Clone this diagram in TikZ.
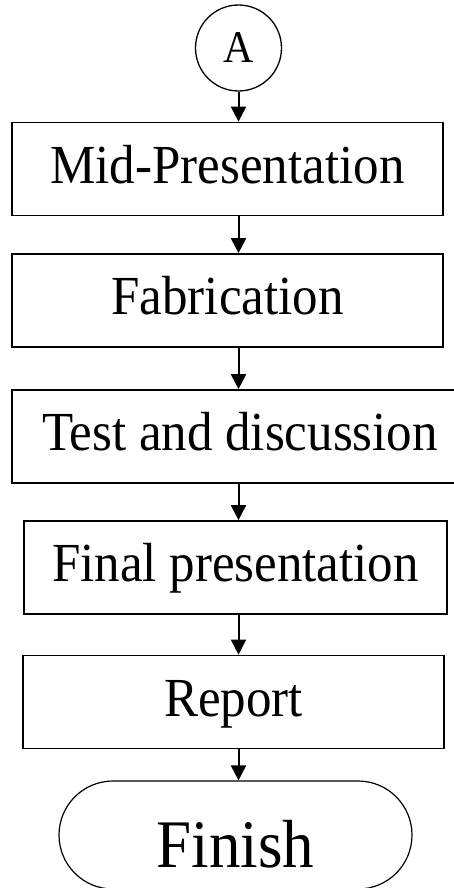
\documentclass[tikz,border=0pt]{standalone}
\usepackage{fontspec}
\setmainfont{Liberation Serif}
\usetikzlibrary{arrows.meta}

\newcommand{\tall}[1]{\scalebox{1}[1.08]{#1}}

\tikzset{
    stage/.style={draw, rectangle, line width=1.7pt, inner sep=0pt, minimum height=93pt,
        font=\fontsize{51}{51}\selectfont, text height=38pt, text depth=10pt},
    flow/.style={line width=2pt, -{Triangle[length=15pt,width=15pt]}},
}

\begin{document}
\begin{tikzpicture}[x=1pt,y=-1pt]
        \useasboundingbox (0,0) rectangle (453,888);
        \node[draw, circle, line width=1.3pt, minimum size=86pt, inner sep=0pt,
            font=\fontsize{42}{42}\selectfont] (conn) at (238.5,48) {\tall{A}};
        \node[stage, minimum width=431pt] (midpres) at (227.5,169) {\tall{Mid-Presentation}};
        \node[stage, minimum width=431pt] (fab) at (227.5,300.5) {\tall{Fabrication}};
        \node[stage, minimum width=456pt] (test) at (240,436.5) {\tall{Test and discussion}};
        \node[stage, minimum width=423pt] (finalpres) at (235.5,567.5) {\tall{Final presentation}};
        \node[stage, minimum width=421pt] (report) at (233.5,702) {\tall{Report}};
        \node[draw, rectangle, rounded corners=54pt, line width=1.2pt, minimum width=353pt,
            minimum height=108pt, font=\fontsize{63}{63}\selectfont,
            text height=64pt, text depth=0pt] (finish) at (235.5,835) {\tall{Finish}};
        \draw[flow] (conn) -- (conn |- midpres.north);
        \draw[flow] (midpres.south -| conn) -- (fab.north -| conn);
        \draw[flow] (fab.south -| conn) -- (test.north -| conn);
        \draw[flow] (test.south -| conn) -- (finalpres.north -| conn);
        \draw[flow] (finalpres.south -| conn) -- (report.north -| conn);
        \draw[flow] (report.south -| conn) -- (finish.north -| conn);
\end{tikzpicture}
\end{document}
